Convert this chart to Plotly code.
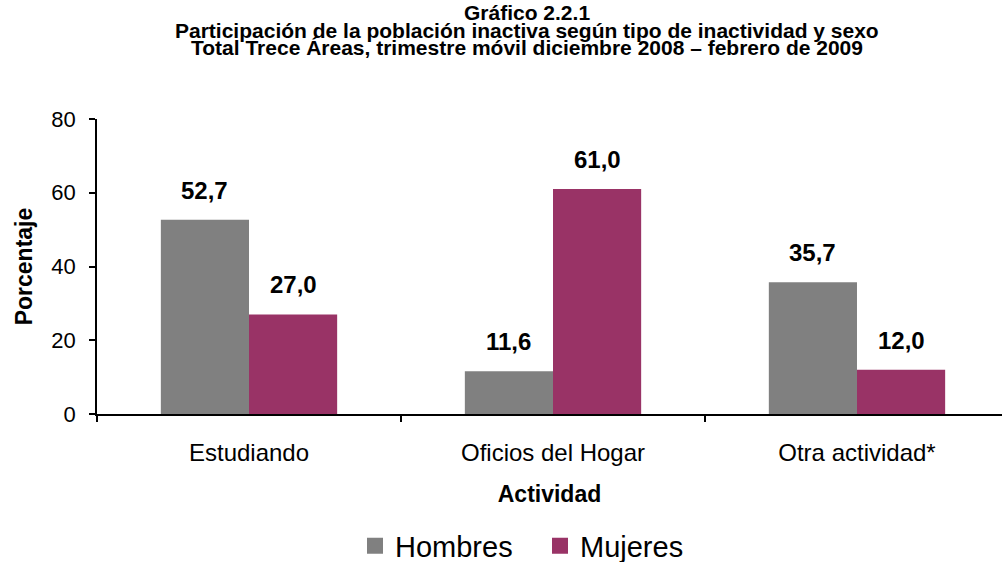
import plotly.graph_objects as go

categories = ["Estudiando", "Oficios del Hogar", "Otra actividad*"]
hombres = [52.7, 11.6, 35.7]
mujeres = [27.0, 61.0, 12.0]
series_names = ["Hombres", "Mujeres"]
colors = ["#808080", "#993366"]
title_lines = [
    "Gráfico 2.2.1",
    "Participación de la población inactiva según tipo de inactividad y sexo",
    "Total Trece Áreas, trimestre móvil diciembre 2008 – febrero de 2009",
]
y_ticks = [0, 20, 40, 60, 80]

FONT = "Liberation Sans, Arial, sans-serif"
W, H = 1002, 562
ML, MR, MT, MB = 97, 0, 119, 562 - 414
PW, PH = W - ML - MR, H - MT - MB
BARGAP = 0.42
bar_w = (1 - BARGAP) / 2

def px_x(sx):  # screen px -> paper x (plot-area fraction)
    return (sx - ML) / PW

def px_y(sy):  # screen px -> paper y (plot-area fraction)
    return 1 - (sy - MT) / PH

fig = go.Figure()
for name, vals, col in zip(series_names, [hombres, mujeres], colors):
    fig.add_trace(go.Bar(x=categories, y=vals, name=name, marker_color=col,
                         marker_line_width=0, showlegend=False))
    fig.add_trace(go.Scatter(x=[None], y=[None], mode="markers", name=name,
                             marker=dict(symbol="square", size=20, color=col)))

annotations = []
for k, vals in enumerate([hombres, mujeres]):
    off = (k - 0.5) * bar_w
    for i, v in enumerate(vals):
        annotations.append(dict(
            x=i + off, y=v, xref="x", yref="y", text=f"<b>{v:.1f}</b>".replace(".", ","),
            showarrow=False, yanchor="bottom", yshift=14,
            font=dict(family=FONT, size=24, color="black")))

title_y = [13, 30, 47]
for t, yp in zip(title_lines, title_y):
    annotations.append(dict(
        x=px_x(527), y=px_y(yp), xref="paper", yref="paper",
        text=f"<b>{t}</b>", showarrow=False, xanchor="center", yanchor="middle",
        font=dict(family=FONT, size=21, color="black")))

fig.update_layout(
    width=W, height=H,
    margin=dict(l=ML, r=MR, t=MT, b=MB, autoexpand=False),
    paper_bgcolor="white", plot_bgcolor="white",
    bargap=BARGAP, bargroupgap=0, barmode="group",
    font=dict(family=FONT, color="black"),
    annotations=annotations,
    legend=dict(orientation="h", x=px_x(540), xanchor="center",
                y=px_y(546), yanchor="middle",
                entrywidth=140, entrywidthmode="pixels",
                font=dict(family=FONT, size=29, color="black")),
)

fig.update_xaxes(
    type="category", range=[-0.5, 2.477], showline=True, linecolor="black", linewidth=1.5,
    ticks="outside", tickson="boundaries", ticklen=6, tickcolor="black", tickwidth=1.5,
    ticklabelstandoff=16,
    tickfont=dict(family=FONT, size=24, color="black"), showgrid=False, automargin=False,
    title=dict(text="<b>Actividad</b>", font=dict(family=FONT, size=23, color="black"), standoff=21),
)
fig.update_yaxes(
    range=[0, 80], tickvals=y_ticks, showline=True, linecolor="black", linewidth=1.5,
    ticks="outside", ticklen=6, tickcolor="black", tickwidth=1.5,
    ticklabelstandoff=9,
    tickfont=dict(family=FONT, size=22, color="black"), showgrid=False, zeroline=False,
    automargin=False,
    title=dict(text="<b>Porcentaje</b>", font=dict(family=FONT, size=23, color="black"), standoff=12),
)

fig.write_html("out.html", config={"displayModeBar": False},
               post_script="document.body.style.margin='0';document.body.style.overflow='hidden';")
